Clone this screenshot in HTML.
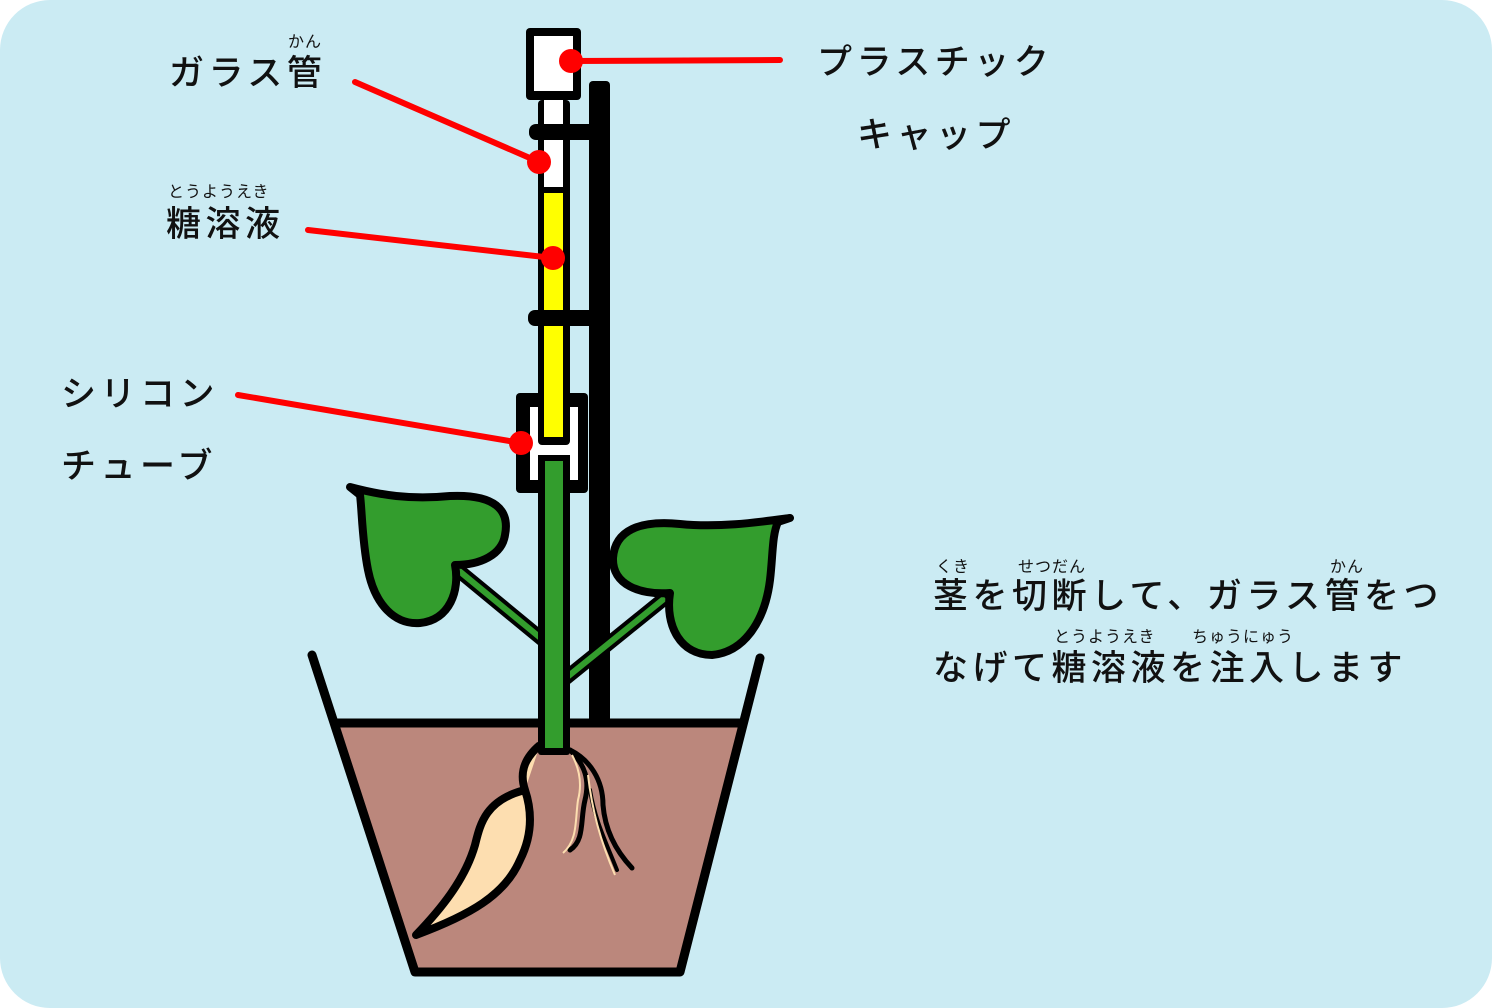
<!DOCTYPE html>
<html><head><meta charset="utf-8"><style>
html,body{margin:0;padding:0;background:#fff;}
body{width:1492px;height:1008px;position:relative;overflow:hidden;}
.bg{position:absolute;left:0;top:0;width:1492px;height:1008px;background:#cbebf3;border-radius:50px;}
.t{position:absolute;font-family:"Liberation Sans","Noto Sans CJK JP",sans-serif;font-size:35px;color:#111;letter-spacing:4.5px;white-space:nowrap;font-weight:500;line-height:1;}
.r{position:absolute;font-family:"Liberation Sans","Noto Sans CJK JP",sans-serif;font-size:16px;color:#111;white-space:nowrap;line-height:1;letter-spacing:1px;}
svg{position:absolute;left:0;top:0;}
</style></head><body>
<div class="bg"></div>
<svg width="1492" height="1008" viewBox="0 0 1492 1008">
<polygon points="337,723 745,723 680,972 415,972" fill="#bb877c"/>
<polyline points="312,655 415,972 680,972 760,658" fill="none" stroke="#000" stroke-width="9" stroke-linecap="round" stroke-linejoin="round"/>
<line x1="337" y1="723" x2="745" y2="723" stroke="#000" stroke-width="9"/>
<rect x="589" y="81" width="21" height="642" rx="4" fill="#000"/>
<line x1="458" y1="570" x2="543" y2="640" stroke="#000" stroke-width="14" stroke-linecap="round"/>
<line x1="458" y1="570" x2="543" y2="640" stroke="#339d2d" stroke-width="6"/>
<line x1="665" y1="598" x2="566" y2="678" stroke="#000" stroke-width="14" stroke-linecap="round"/>
<line x1="665" y1="598" x2="566" y2="678" stroke="#339d2d" stroke-width="6"/>
<path d="M350,487 C380,495 410,500 450,496 C495,494 510,510 505,535 C502,555 480,565 455,565 C460,590 450,620 420,623 C395,625 375,605 368,570 C362,540 362,510 360,495 Z" fill="#339d2d" stroke="#000" stroke-width="8" stroke-linejoin="round"/>
<path d="M790,518 C760,522 720,528 680,524 C640,520 615,530 613,558 C612,585 640,595 670,593 C665,625 680,655 712,655 C745,652 765,620 770,580 C773,555 772,535 778,522 Z" fill="#339d2d" stroke="#000" stroke-width="8" stroke-linejoin="round"/>
<path d="M540,745 C522,760 520,775 525,790 C485,800 480,825 475,845 C465,880 440,910 416,935 C470,915 505,895 520,860 C535,830 530,805 525,790" fill="#fddeb0" stroke="#000" stroke-width="8" stroke-linejoin="round"/>
<path d="M570,750 C585,765 590,780 585,800 C580,820 585,840 570,850" fill="none" stroke="#000" stroke-width="5" stroke-linecap="round"/>
<path d="M570,750 C590,760 603,780 603,805 C605,830 615,850 632,868" fill="none" stroke="#000" stroke-width="5" stroke-linecap="round"/>
<path d="M590,790 C595,820 605,840 617,870" fill="none" stroke="#000" stroke-width="4" stroke-linecap="round"/>
<path d="M572,755 C580,770 582,785 578,800 C575,820 578,840 563,853" fill="none" stroke="#fddeb0" stroke-width="2"/>
<path d="M588,775 C592,810 600,840 615,875" fill="none" stroke="#fddeb0" stroke-width="2"/>
<rect x="538" y="455" width="32" height="300" rx="3" fill="#000"/>
<rect x="545" y="460" width="18" height="288" fill="#339d2d"/>
<rect x="516" y="393" width="72" height="100" rx="4" fill="#000"/>
<rect x="530" y="407" width="48" height="73" fill="#fff"/>
<rect x="538" y="100" width="32" height="345" rx="4" fill="#000"/>
<rect x="544" y="100" width="19" height="87" fill="#fff"/>
<rect x="544" y="193" width="19" height="244" fill="#ffff00"/>
<rect x="538" y="455" width="32" height="38" fill="#000"/>
<rect x="545" y="461" width="18" height="32" fill="#339d2d"/>
<rect x="529" y="124" width="70" height="16" rx="7" fill="#000"/>
<rect x="528" y="310" width="70" height="16" rx="7" fill="#000"/>
<rect x="526" y="28" width="55" height="72" rx="4" fill="#000"/>
<rect x="534" y="36" width="39" height="55" fill="#fff"/>
<g stroke="#f00" stroke-width="6" stroke-linecap="round" fill="#f00">
<line x1="571" y1="61" x2="780" y2="60"/><circle cx="571" cy="61" r="12" stroke="none"/>
<line x1="355" y1="82" x2="539" y2="162"/><circle cx="539" cy="162" r="12" stroke="none"/>
<line x1="308" y1="230" x2="553" y2="258"/><circle cx="553" cy="258" r="12" stroke="none"/>
<line x1="238" y1="395" x2="521" y2="443"/><circle cx="521" cy="443" r="12" stroke="none"/>
</g>
</svg>
<div class="r" style="left:288px;top:35px;">かん</div>
<div class="t" style="left:169px;top:56px;">ガラス管</div>
<div class="r" style="left:168px;top:185px;">とうようえき</div>
<div class="t" style="left:166px;top:207px;">糖溶液</div>
<div class="t" style="left:817px;top:45px;">プラスチック</div>
<div class="t" style="left:857px;top:118px;">キャップ</div>
<div class="t" style="left:61px;top:377px;">シリコン</div>
<div class="t" style="left:61px;top:449px;">チューブ</div>
<div class="r" style="left:936px;top:560px;">くき</div>
<div class="r" style="left:1018px;top:560px;">せつだん</div>
<div class="r" style="left:1330px;top:560px;">かん</div>
<div class="t" style="left:933px;top:579px;">茎を切断して、ガラス管をつ</div>
<div class="r" style="left:1054px;top:630px;">とうようえき</div>
<div class="r" style="left:1192px;top:630px;">ちゅうにゅう</div>
<div class="t" style="left:933px;top:651px;">なげて糖溶液を注入します</div>
</body></html>
